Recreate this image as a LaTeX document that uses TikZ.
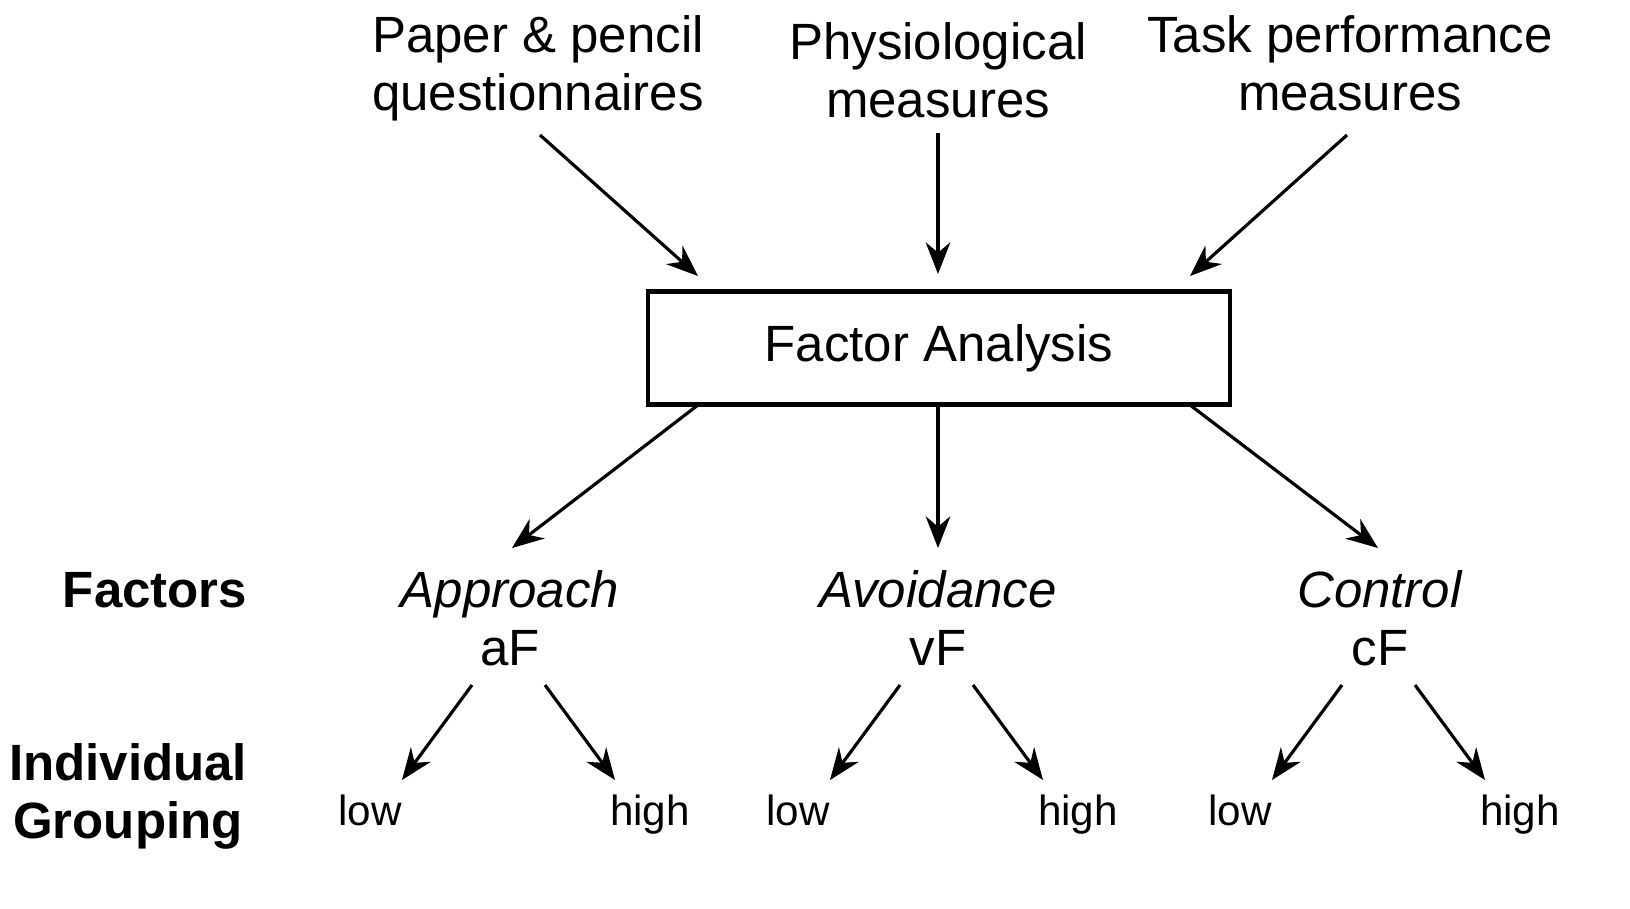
\documentclass[tikz,border=0pt]{standalone}
\usepackage{fontspec}
\setmainfont{Liberation Sans}
\usetikzlibrary{arrows.meta}
\begin{document}
\begin{tikzpicture}[x=0.01cm,y=-0.01cm,
  big/.style={font=\fontsize{14.5pt}{16.5pt}\selectfont,align=center,inner sep=0pt},
  small/.style={font=\fontsize{12pt}{14pt}\selectfont,inner sep=0pt,anchor=base},
  arr/.style={line width=0.9pt,-{Stealth[length=9pt,width=7pt]}}]
\useasboundingbox (0,0) rectangle (1630,908);
\node[big] (pp) at (538,68) {Paper \& pencil\\questionnaires};
\node[big] (ph) at (938,70) {Physiological\\measures};
\node[big] (tp) at (1350,63) {Task performance\\measures};
\node[big,draw,line width=1.3pt,minimum width=5.82cm,minimum height=1.13cm] (fa) at (939,348) {Factor Analysis};
\node[big,font=\fontsize{14.5pt}{16.5pt}\bfseries] (fac) at (155,590) {Factors};
\node[big,font=\fontsize{14.5pt}{16.5pt}\bfseries] (ig) at (128,796) {Individual\\Grouping};
\node[big] (ap) at (510,618) {\textit{Approach}\\aF};
\node[big] (av) at (938,618) {\textit{Avoidance}\\vF};
\node[big] (co) at (1380,618) {\textit{Control}\\cF};
\node[small] (l1) at (370,825) {low};
\node[small] (h1) at (650,825) {high};
\node[small] (l2) at (798,825) {low};
\node[small] (h2) at (1078,825) {high};
\node[small] (l3) at (1240,825) {low};
\node[small] (h3) at (1520,825) {high};
\coordinate (a1) at (540,135); \coordinate (b1) at (698,276);
\coordinate (a2) at (938,133); \coordinate (b2) at (938,274);
\coordinate (a3) at (1347,135); \coordinate (b3) at (1190,276);
\coordinate (c1) at (698,405); \coordinate (d1) at (512,548);
\coordinate (c2) at (938,405); \coordinate (d2) at (938,548);
\coordinate (c3) at (1190,405); \coordinate (d3) at (1378,548);
\draw[arr] (a1) -- (b1); \draw[arr] (a2) -- (b2); \draw[arr] (a3) -- (b3);
\draw[arr] (c1) -- (d1); \draw[arr] (c2) -- (d2); \draw[arr] (c3) -- (d3);
\foreach \x/\n in {472/1,900/2,1342/3}{
  \coordinate (s\n) at (\x,685); \coordinate (t\n) at (\x-70,780);
  \coordinate (u\n) at (\x+73,685); \coordinate (v\n) at (\x+143,780);
  \draw[arr] (s\n) -- (t\n); \draw[arr] (u\n) -- (v\n);}
\end{tikzpicture}
\end{document}
